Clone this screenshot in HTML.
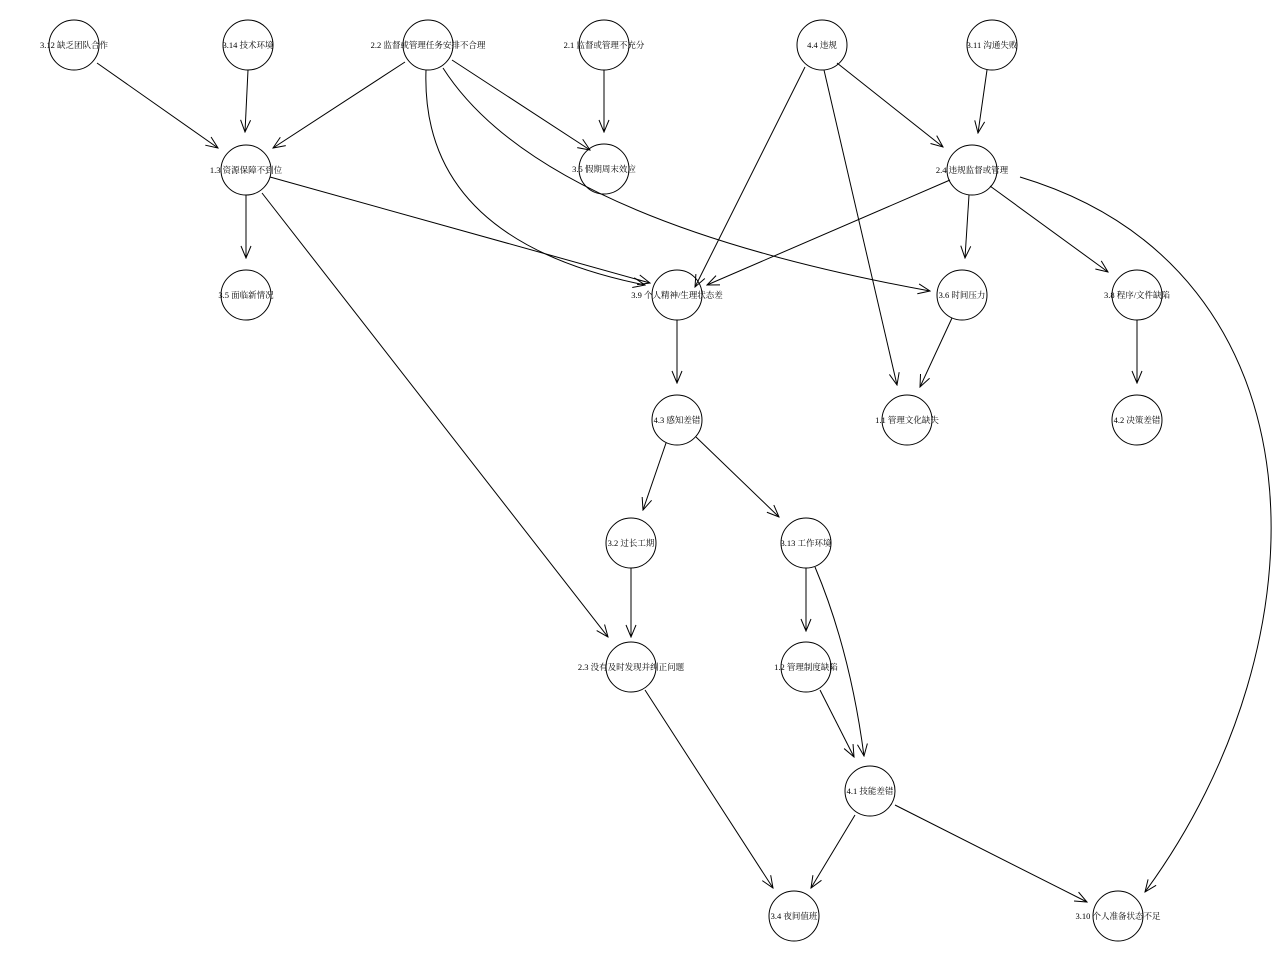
<!DOCTYPE html>
<html><head><meta charset="utf-8"><style>
html,body{margin:0;padding:0;background:#fff;}
svg{display:block;}
text{font-family:"Liberation Serif","Noto Serif CJK SC","Noto Sans CJK SC",serif;font-size:8.5px;fill:#000;}
</style></head><body>
<svg width="1280" height="960" viewBox="0 0 1280 960" xmlns="http://www.w3.org/2000/svg">
<defs>
<marker id="a" markerWidth="14" markerHeight="12" refX="13" refY="6" orient="auto" markerUnits="userSpaceOnUse">
<path d="M1,1 L13,6 L1,11" fill="none" stroke="#000" stroke-width="1"/>
</marker>
</defs>
<g fill="none" stroke="#000" stroke-width="1" marker-end="url(#a)">
<path d="M97,63 L218,148"/>
<path d="M248,70 L245,132"/>
<path d="M405,62 L273,148"/>
<path d="M452,60 L590,150"/>
<path d="M426,70 Q420,240 645,285"/>
<path d="M443,68 Q540,220 930,291"/>
<path d="M604,70 L604,132"/>
<path d="M805,67 L695,287"/>
<path d="M824,70 L897,385"/>
<path d="M837,63 L943,147"/>
<path d="M987,70 L978,133"/>
<path d="M246,195 L246,258"/>
<path d="M270,177 L650,283"/>
<path d="M262,193 L608,637"/>
<path d="M950,180 L707,285"/>
<path d="M969,195 L965,258"/>
<path d="M990,186 L1108,272"/>
<path d="M1020,177 C1330,270 1330,640 1145,892"/>
<path d="M677,320 L677,383"/>
<path d="M952,318 L920,387"/>
<path d="M1137,320 L1137,383"/>
<path d="M666,443 L643,510"/>
<path d="M696,437 L779,517"/>
<path d="M631,568 L631,637"/>
<path d="M806,568 L806,631"/>
<path d="M815,567 Q850,650 864,756"/>
<path d="M820,690 L854,757"/>
<path d="M645,690 L773,888"/>
<path d="M855,815 L811,888"/>
<path d="M895,805 L1087,902"/>
</g>
<g fill="none" stroke="#000" stroke-width="1">
<circle cx="74" cy="45" r="25"/>
<circle cx="248" cy="45" r="25"/>
<circle cx="428" cy="45" r="25"/>
<circle cx="604" cy="45" r="25"/>
<circle cx="822" cy="45" r="25"/>
<circle cx="992" cy="45" r="25"/>
<circle cx="246" cy="170" r="25"/>
<circle cx="604" cy="169" r="25"/>
<circle cx="972" cy="170" r="25"/>
<circle cx="246" cy="295" r="25"/>
<circle cx="677" cy="295" r="25"/>
<circle cx="962" cy="295" r="25"/>
<circle cx="1137" cy="295" r="25"/>
<circle cx="677" cy="420" r="25"/>
<circle cx="907" cy="420" r="25"/>
<circle cx="1137" cy="420" r="25"/>
<circle cx="631" cy="543" r="25"/>
<circle cx="806" cy="543" r="25"/>
<circle cx="631" cy="667" r="25"/>
<circle cx="806" cy="667" r="25"/>
<circle cx="870" cy="791" r="25"/>
<circle cx="794" cy="916" r="25"/>
<circle cx="1118" cy="916" r="25"/>
</g>
<g text-anchor="middle">
<text x="74" y="48">3.12 缺乏团队合作</text>
<text x="248" y="48">3.14 技术环境</text>
<text x="428" y="48">2.2 监督或管理任务安排不合理</text>
<text x="604" y="48">2.1 监督或管理不充分</text>
<text x="822" y="48">4.4 违规</text>
<text x="992" y="48">3.11 沟通失败</text>
<text x="246" y="173">1.3 资源保障不到位</text>
<text x="604" y="172">3.5 假期周末效应</text>
<text x="972" y="173">2.4 违规监督或管理</text>
<text x="246" y="298">3.5 面临新情况</text>
<text x="677" y="298">3.9 个人精神/生理状态差</text>
<text x="962" y="298">3.6 时间压力</text>
<text x="1137" y="298">3.8 程序/文件缺陷</text>
<text x="677" y="423">4.3 感知差错</text>
<text x="907" y="423">1.1 管理文化缺失</text>
<text x="1137" y="423">4.2 决策差错</text>
<text x="631" y="546">3.2 过长工期</text>
<text x="806" y="546">3.13 工作环境</text>
<text x="631" y="670">2.3 没有及时发现并纠正问题</text>
<text x="806" y="670">1.2 管理制度缺陷</text>
<text x="870" y="794">4.1 技能差错</text>
<text x="794" y="919">3.4 夜间值班</text>
<text x="1118" y="919">3.10 个人准备状态不足</text>
</g>
</svg>
</body></html>
